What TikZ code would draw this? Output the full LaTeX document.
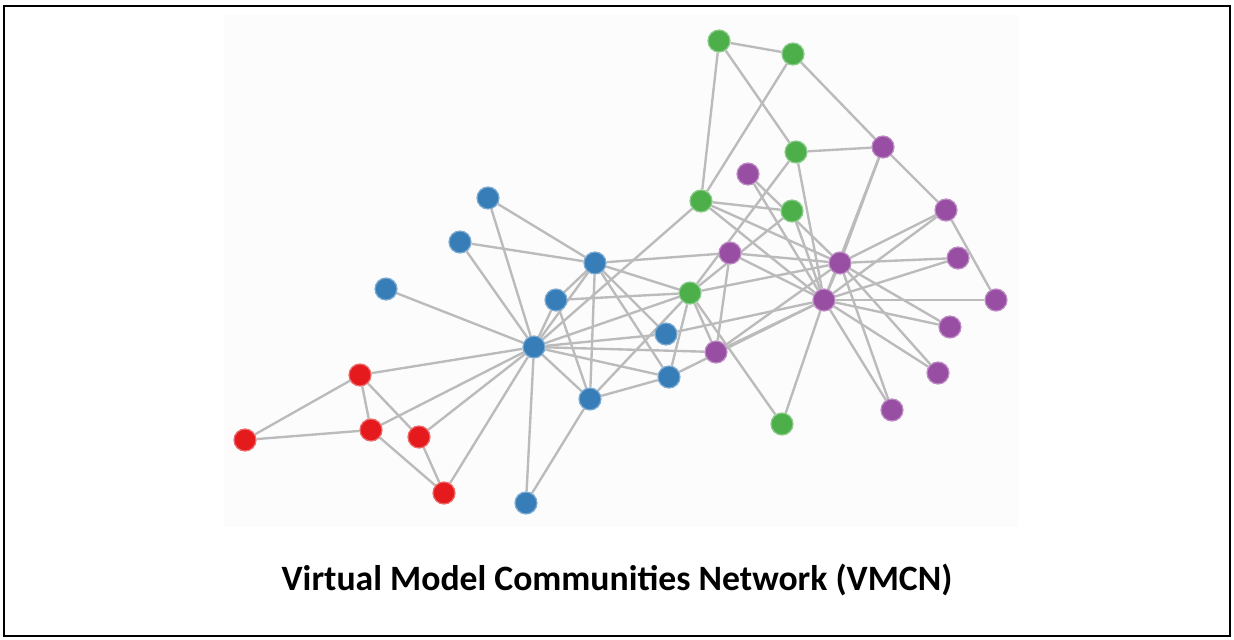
\documentclass[tikz,border=0pt]{standalone}
\usepackage{fontspec}
\newfontfamily\titlefont{Carlito}
\usetikzlibrary{automata,backgrounds}
\definecolor{nodered}{HTML}{E41A1C}
\definecolor{nodeblue}{HTML}{377EB8}
\definecolor{nodegreen}{HTML}{4DAF4A}
\definecolor{nodepurple}{HTML}{984EA3}
\definecolor{edgegray}{HTML}{BBBBBB}
\definecolor{panelgray}{HTML}{FCFCFC}
\tikzset{
-,
thick,
every state/.style={line width=0.7pt, minimum size=0.44cm, inner sep=0pt},
redstate/.style={state, fill=nodered, draw=nodered!65!white},
bluestate/.style={state, fill=nodeblue, draw=nodeblue!65!white},
greenstate/.style={state, fill=nodegreen, draw=nodegreen!65!white},
purplestate/.style={state, fill=nodepurple, draw=nodepurple!65!white},
link/.style={draw=edgegray, line width=1.35pt},
}

\begin{document}
\begin{tikzpicture}
    [x=0.02cm, y=-0.02cm]
    \useasboundingbox (0,0) rectangle (1234,639);

    %red
    \node[redstate] (R1) at (360,375) {};
    \node[redstate] (R2) at (245,440) {};
    \node[redstate] (R3) at (371,430) {};
    \node[redstate] (R4) at (419,437) {};
    \node[redstate] (R5) at (444,493) {};

    %blue
    \node[bluestate] (B1) at (488,198) {};
    \node[bluestate] (B2) at (460,242) {};
    \node[bluestate] (B3) at (386,289) {};
    \node[bluestate] (B4) at (534,347) {};
    \node[bluestate] (B5) at (595,263) {};
    \node[bluestate] (B6) at (556,300) {};
    \node[bluestate] (B7) at (666,334) {};
    \node[bluestate] (B8) at (669,377) {};
    \node[bluestate] (B9) at (590,399) {};
    \node[bluestate] (B10) at (526,503) {};

    %green
    \node[greenstate] (G1) at (719,41) {};
    \node[greenstate] (G2) at (793,54) {};
    \node[greenstate] (G3) at (796,152) {};
    \node[greenstate] (G4) at (701,201) {};
    \node[greenstate] (G5) at (792,211) {};
    \node[greenstate] (G6) at (690,293) {};
    \node[greenstate] (G7) at (782,424) {};

    %purple
    \node[purplestate] (P1) at (748,174) {};
    \node[purplestate] (P2) at (883,147) {};
    \node[purplestate] (P3) at (946,210) {};
    \node[purplestate] (P4) at (730,253) {};
    \node[purplestate] (P5) at (840,263) {};
    \node[purplestate] (P6) at (958,258) {};
    \node[purplestate] (P7) at (824,300) {};
    \node[purplestate] (P8) at (996,300) {};
    \node[purplestate] (P9) at (950,327) {};
    \node[purplestate] (P10) at (716,352) {};
    \node[purplestate] (P11) at (938,373) {};
    \node[purplestate] (P12) at (892,410) {};

    \node[font=\titlefont\bfseries\fontsize{20.3}{24}\selectfont] (title) at (617,580) {Virtual Model Communities Network (VMCN)};

    \begin{scope}[on background layer]
    \draw[line width=1.2pt] (4,6) rectangle (1230,636);
    \fill[panelgray] (224,15) rectangle (1018,527);

    %blue hub
    \draw[link] (B4) to (B5);
    \draw[link] (B4) to (G6);
    \draw[link] (B4) to (B9);
    \draw[link] (B4) to (R5);
    \draw[link] (B4) to (R1);
    \draw[link] (B4) to (R3);
    \draw[link] (B4) to (B6);
    \draw[link] (B4) to (P10);
    \draw[link] (B4) to (R4);
    \draw[link] (B4) to (B3);
    \draw[link] (B4) to (B10);
    \draw[link] (B4) to (B8);
    \draw[link] (B4) to (B1);
    \draw[link] (B4) to (B7);
    \draw[link] (B4) to (B2);
    \draw[link] (B4) to (G4);
    \draw[link] (B5) to (G6);
    \draw[link] (B5) to (B9);
    \draw[link] (B5) to (B6);
    \draw[link] (B5) to (B8);
    \draw[link] (B5) to (B1);
    \draw[link] (B5) to (B2);
    \draw[link] (B5) to (B7);
    \draw[link] (B5) to (P4);
    \draw[link] (G6) to (B9);
    \draw[link] (G6) to (B6);
    \draw[link] (G6) to (P10);
    \draw[link] (G6) to (G7);
    \draw[link] (G6) to (B8);
    \draw[link] (G6) to (G3);
    \draw[link] (G6) to (G5);
    \draw[link] (G6) to (P5);
    \draw[link] (B9) to (B6);
    \draw[link] (B9) to (B10);
    \draw[link] (B9) to (B8);

    %red
    \draw[link] (R5) to (R3);
    \draw[link] (R5) to (R4);
    \draw[link] (R1) to (R3);
    \draw[link] (R1) to (R4);
    \draw[link] (R1) to (R2);
    \draw[link] (R3) to (R2);

    %purple hubs
    \draw[link] (P10) to (P4);
    \draw[link] (P10) to (P5);
    \draw[link] (P10) to (P7);
    \draw[link] (G7) to (P7);
    \draw[link] (B8) to (P7);
    \draw[link] (B7) to (P7);
    \draw[link] (P1) to (P5);
    \draw[link] (P1) to (P7);
    \draw[link] (P6) to (P5);
    \draw[link] (P6) to (P7);
    \draw[link] (P9) to (P5);
    \draw[link] (P9) to (P7);
    \draw[link] (P11) to (P5);
    \draw[link] (P11) to (P7);
    \draw[link] (P12) to (P5);
    \draw[link] (P12) to (P7);
    \draw[link] (P2) to (G2);
    \draw[link] (P2) to (G3);
    \draw[link] (P2) to (P3);
    \draw[link] (P2) to (P5);
    \draw[link] (P2) to (P7);
    \draw[link] (G1) to (G2);
    \draw[link] (G1) to (G3);
    \draw[link] (G1) to (G4);
    \draw[link] (G2) to (G4);
    \draw[link] (P8) to (P3);
    \draw[link] (P8) to (P7);
    \draw[link] (G3) to (P7);
    \draw[link] (G5) to (G4);
    \draw[link] (G5) to (P7);
    \draw[link] (P3) to (P5);
    \draw[link] (P3) to (P7);
    \draw[link] (P4) to (P5);
    \draw[link] (P4) to (P7);
    \draw[link] (G4) to (P5);
    \draw[link] (G4) to (P7);
    \draw[link] (P5) to (P7);
    \end{scope}

\end{tikzpicture}
\end{document}
